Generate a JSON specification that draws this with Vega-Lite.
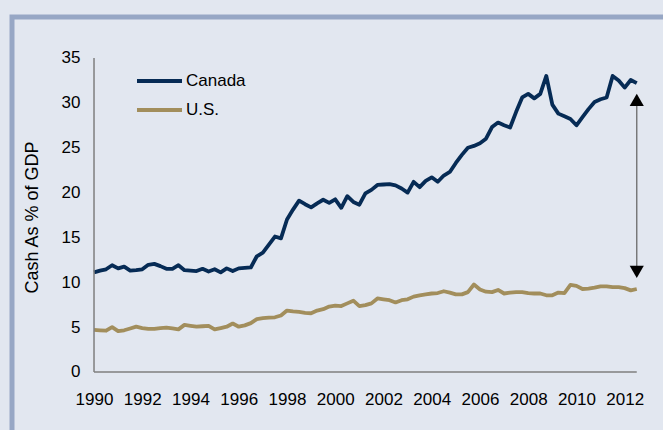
{
  "$schema": "https://vega.github.io/schema/vega-lite/v6.json",
  "width": 680,
  "height": 440,
  "padding": {"left": 12, "top": 17, "right": 0, "bottom": 0},
  "background": "#e2e7f0",
  "config": {
    "view": {"stroke": "#97a7c5", "strokeWidth": 5},
    "font": "Liberation Sans"
  },
  "layer": [
    {
      "data": {"values": [
        {"t":1990,"Canada":11.1,"US":4.7},{"t":1990.25,"Canada":11.3,"US":4.65},{"t":1990.5,"Canada":11.45,"US":4.6},{"t":1990.75,"Canada":11.9,"US":5.0},
        {"t":1991,"Canada":11.55,"US":4.55},{"t":1991.25,"Canada":11.75,"US":4.65},{"t":1991.5,"Canada":11.3,"US":4.85},{"t":1991.75,"Canada":11.35,"US":5.05},
        {"t":1992,"Canada":11.45,"US":4.9},{"t":1992.25,"Canada":11.95,"US":4.8},{"t":1992.5,"Canada":12.05,"US":4.8},{"t":1992.75,"Canada":11.8,"US":4.9},
        {"t":1993,"Canada":11.5,"US":4.95},{"t":1993.25,"Canada":11.5,"US":4.85},{"t":1993.5,"Canada":11.9,"US":4.75},{"t":1993.75,"Canada":11.35,"US":5.25},
        {"t":1994,"Canada":11.3,"US":5.15},{"t":1994.25,"Canada":11.25,"US":5.05},{"t":1994.5,"Canada":11.5,"US":5.1},{"t":1994.75,"Canada":11.2,"US":5.15},
        {"t":1995,"Canada":11.45,"US":4.75},{"t":1995.25,"Canada":11.1,"US":4.9},{"t":1995.5,"Canada":11.55,"US":5.05},{"t":1995.75,"Canada":11.25,"US":5.4},
        {"t":1996,"Canada":11.55,"US":5.05},{"t":1996.25,"Canada":11.6,"US":5.2},{"t":1996.5,"Canada":11.65,"US":5.45},{"t":1996.75,"Canada":12.9,"US":5.9},
        {"t":1997,"Canada":13.3,"US":6.0},{"t":1997.25,"Canada":14.2,"US":6.05},{"t":1997.5,"Canada":15.1,"US":6.1},{"t":1997.75,"Canada":14.9,"US":6.3},
        {"t":1998,"Canada":17.0,"US":6.85},{"t":1998.25,"Canada":18.1,"US":6.75},{"t":1998.5,"Canada":19.1,"US":6.7},{"t":1998.75,"Canada":18.7,"US":6.6},
        {"t":1999,"Canada":18.35,"US":6.55},{"t":1999.25,"Canada":18.8,"US":6.85},{"t":1999.5,"Canada":19.2,"US":7.0},{"t":1999.75,"Canada":18.85,"US":7.3},
        {"t":2000,"Canada":19.25,"US":7.4},{"t":2000.25,"Canada":18.3,"US":7.35},{"t":2000.5,"Canada":19.6,"US":7.65},{"t":2000.75,"Canada":18.95,"US":7.95},
        {"t":2001,"Canada":18.65,"US":7.35},{"t":2001.25,"Canada":19.9,"US":7.45},{"t":2001.5,"Canada":20.3,"US":7.65},{"t":2001.75,"Canada":20.85,"US":8.2},
        {"t":2002,"Canada":20.9,"US":8.1},{"t":2002.25,"Canada":20.95,"US":8.0},{"t":2002.5,"Canada":20.8,"US":7.75},{"t":2002.75,"Canada":20.45,"US":8.0},
        {"t":2003,"Canada":20.0,"US":8.1},{"t":2003.25,"Canada":21.2,"US":8.4},{"t":2003.5,"Canada":20.6,"US":8.55},{"t":2003.75,"Canada":21.3,"US":8.65},
        {"t":2004,"Canada":21.7,"US":8.75},{"t":2004.25,"Canada":21.2,"US":8.8},{"t":2004.5,"Canada":21.9,"US":9.0},{"t":2004.75,"Canada":22.3,"US":8.85},
        {"t":2005,"Canada":23.3,"US":8.65},{"t":2005.25,"Canada":24.2,"US":8.65},{"t":2005.5,"Canada":25.0,"US":8.9},{"t":2005.75,"Canada":25.2,"US":9.75},
        {"t":2006,"Canada":25.5,"US":9.2},{"t":2006.25,"Canada":26.0,"US":8.95},{"t":2006.5,"Canada":27.3,"US":8.9},{"t":2006.75,"Canada":27.8,"US":9.15},
        {"t":2007,"Canada":27.5,"US":8.75},{"t":2007.25,"Canada":27.25,"US":8.85},{"t":2007.5,"Canada":29.0,"US":8.9},{"t":2007.75,"Canada":30.6,"US":8.9},
        {"t":2008,"Canada":31.0,"US":8.8},{"t":2008.25,"Canada":30.5,"US":8.75},{"t":2008.5,"Canada":31.0,"US":8.75},{"t":2008.75,"Canada":33.0,"US":8.55},
        {"t":2009,"Canada":29.8,"US":8.55},{"t":2009.25,"Canada":28.8,"US":8.85},{"t":2009.5,"Canada":28.5,"US":8.8},{"t":2009.75,"Canada":28.2,"US":9.7},
        {"t":2010,"Canada":27.5,"US":9.6},{"t":2010.25,"Canada":28.4,"US":9.25},{"t":2010.5,"Canada":29.3,"US":9.3},{"t":2010.75,"Canada":30.1,"US":9.4},
        {"t":2011,"Canada":30.4,"US":9.55},{"t":2011.25,"Canada":30.6,"US":9.55},{"t":2011.5,"Canada":33.0,"US":9.45},{"t":2011.75,"Canada":32.5,"US":9.45},
        {"t":2012,"Canada":31.7,"US":9.35},{"t":2012.25,"Canada":32.55,"US":9.1},{"t":2012.5,"Canada":32.2,"US":9.25}
      ]},
      "transform": [{"fold": ["Canada", "US"], "as": ["series", "value"]}],
      "mark": {"type": "line", "strokeWidth": 3.8, "strokeJoin": "round"},
      "encoding": {
        "x": {
          "field": "t", "type": "quantitative",
          "scale": {"domain": [1986.6, 2014.79], "nice": false, "zero": false},
          "axis": {
            "title": null, "domain": false, "ticks": false, "grid": false,
            "values": [1990,1992,1994,1996,1998,2000,2002,2004,2006,2008,2010,2012],
            "format": "d", "offset": -85, "labelPadding": 19,
            "labelFontSize": 17, "labelColor": "#000000", "labelFont": "Liberation Sans"
          }
        },
        "y": {
          "field": "value", "type": "quantitative",
          "scale": {"domain": [-9.475, 39.57], "nice": false, "zero": false},
          "axis": {
            "title": "Cash As % of GDP", "domain": false, "ticks": false, "grid": false,
            "values": [0,5,10,15,20,25,30,35], "offset": -82, "labelPadding": 14,
            "labelFontSize": 17, "labelColor": "#000000", "labelFont": "Liberation Sans",
            "titleFontSize": 18, "titleFontWeight": "normal", "titleColor": "#000000", "titleFont": "Liberation Sans",
            "titleX": -62, "titleY": 200, "titleAngle": -90, "titleAlign": "center", "titleBaseline": "middle"
          }
        },
        "color": {
          "field": "series", "type": "nominal",
          "scale": {"domain": ["Canada", "US"], "range": ["#062b55", "#a28e5c"]},
          "legend": {
            "orient": "none", "legendX": 123, "legendY": 54, "title": null, "padding": 0,
            "symbolType": "stroke", "symbolSize": 2025, "symbolStrokeWidth": 4,
            "clipHeight": 20, "rowPadding": 9, "labelOffset": 2,
            "labelFontSize": 17, "labelColor": "#000000", "labelFont": "Liberation Sans",
            "labelExpr": "datum.label == 'US' ? 'U.S.' : datum.label"
          }
        }
      }
    },
    {
      "data": {"values": [{}]},
      "mark": {"type": "rule", "color": "#7f7f7f", "strokeWidth": 1.5},
      "encoding": {
        "x": {"datum": 1990, "type": "quantitative"},
        "y": {"datum": 0, "type": "quantitative"},
        "y2": {"datum": 35}
      }
    },
    {
      "data": {"values": [{}]},
      "mark": {"type": "rule", "color": "#7f7f7f", "strokeWidth": 1.5},
      "encoding": {
        "x": {"datum": 1990, "type": "quantitative"},
        "x2": {"datum": 2012.5},
        "y": {"datum": 0, "type": "quantitative"}
      }
    },
    {
      "data": {"values": [{}]},
      "mark": {"type": "rule", "color": "#6a6a6a", "strokeWidth": 1.3},
      "encoding": {
        "x": {"datum": 2012.5, "type": "quantitative"},
        "y": {"datum": 30.5, "type": "quantitative"},
        "y2": {"datum": 11.0}
      }
    },
    {
      "data": {"values": [{}]},
      "mark": {"type": "point", "shape": "triangle-up", "filled": true, "color": "#000000", "size": 200, "opacity": 1},
      "encoding": {
        "x": {"datum": 2012.5, "type": "quantitative"},
        "y": {"datum": 30.32, "type": "quantitative"}
      }
    },
    {
      "data": {"values": [{}]},
      "mark": {"type": "point", "shape": "triangle-down", "filled": true, "color": "#000000", "size": 200, "opacity": 1},
      "encoding": {
        "x": {"datum": 2012.5, "type": "quantitative"},
        "y": {"datum": 11.15, "type": "quantitative"}
      }
    }
  ]
}
